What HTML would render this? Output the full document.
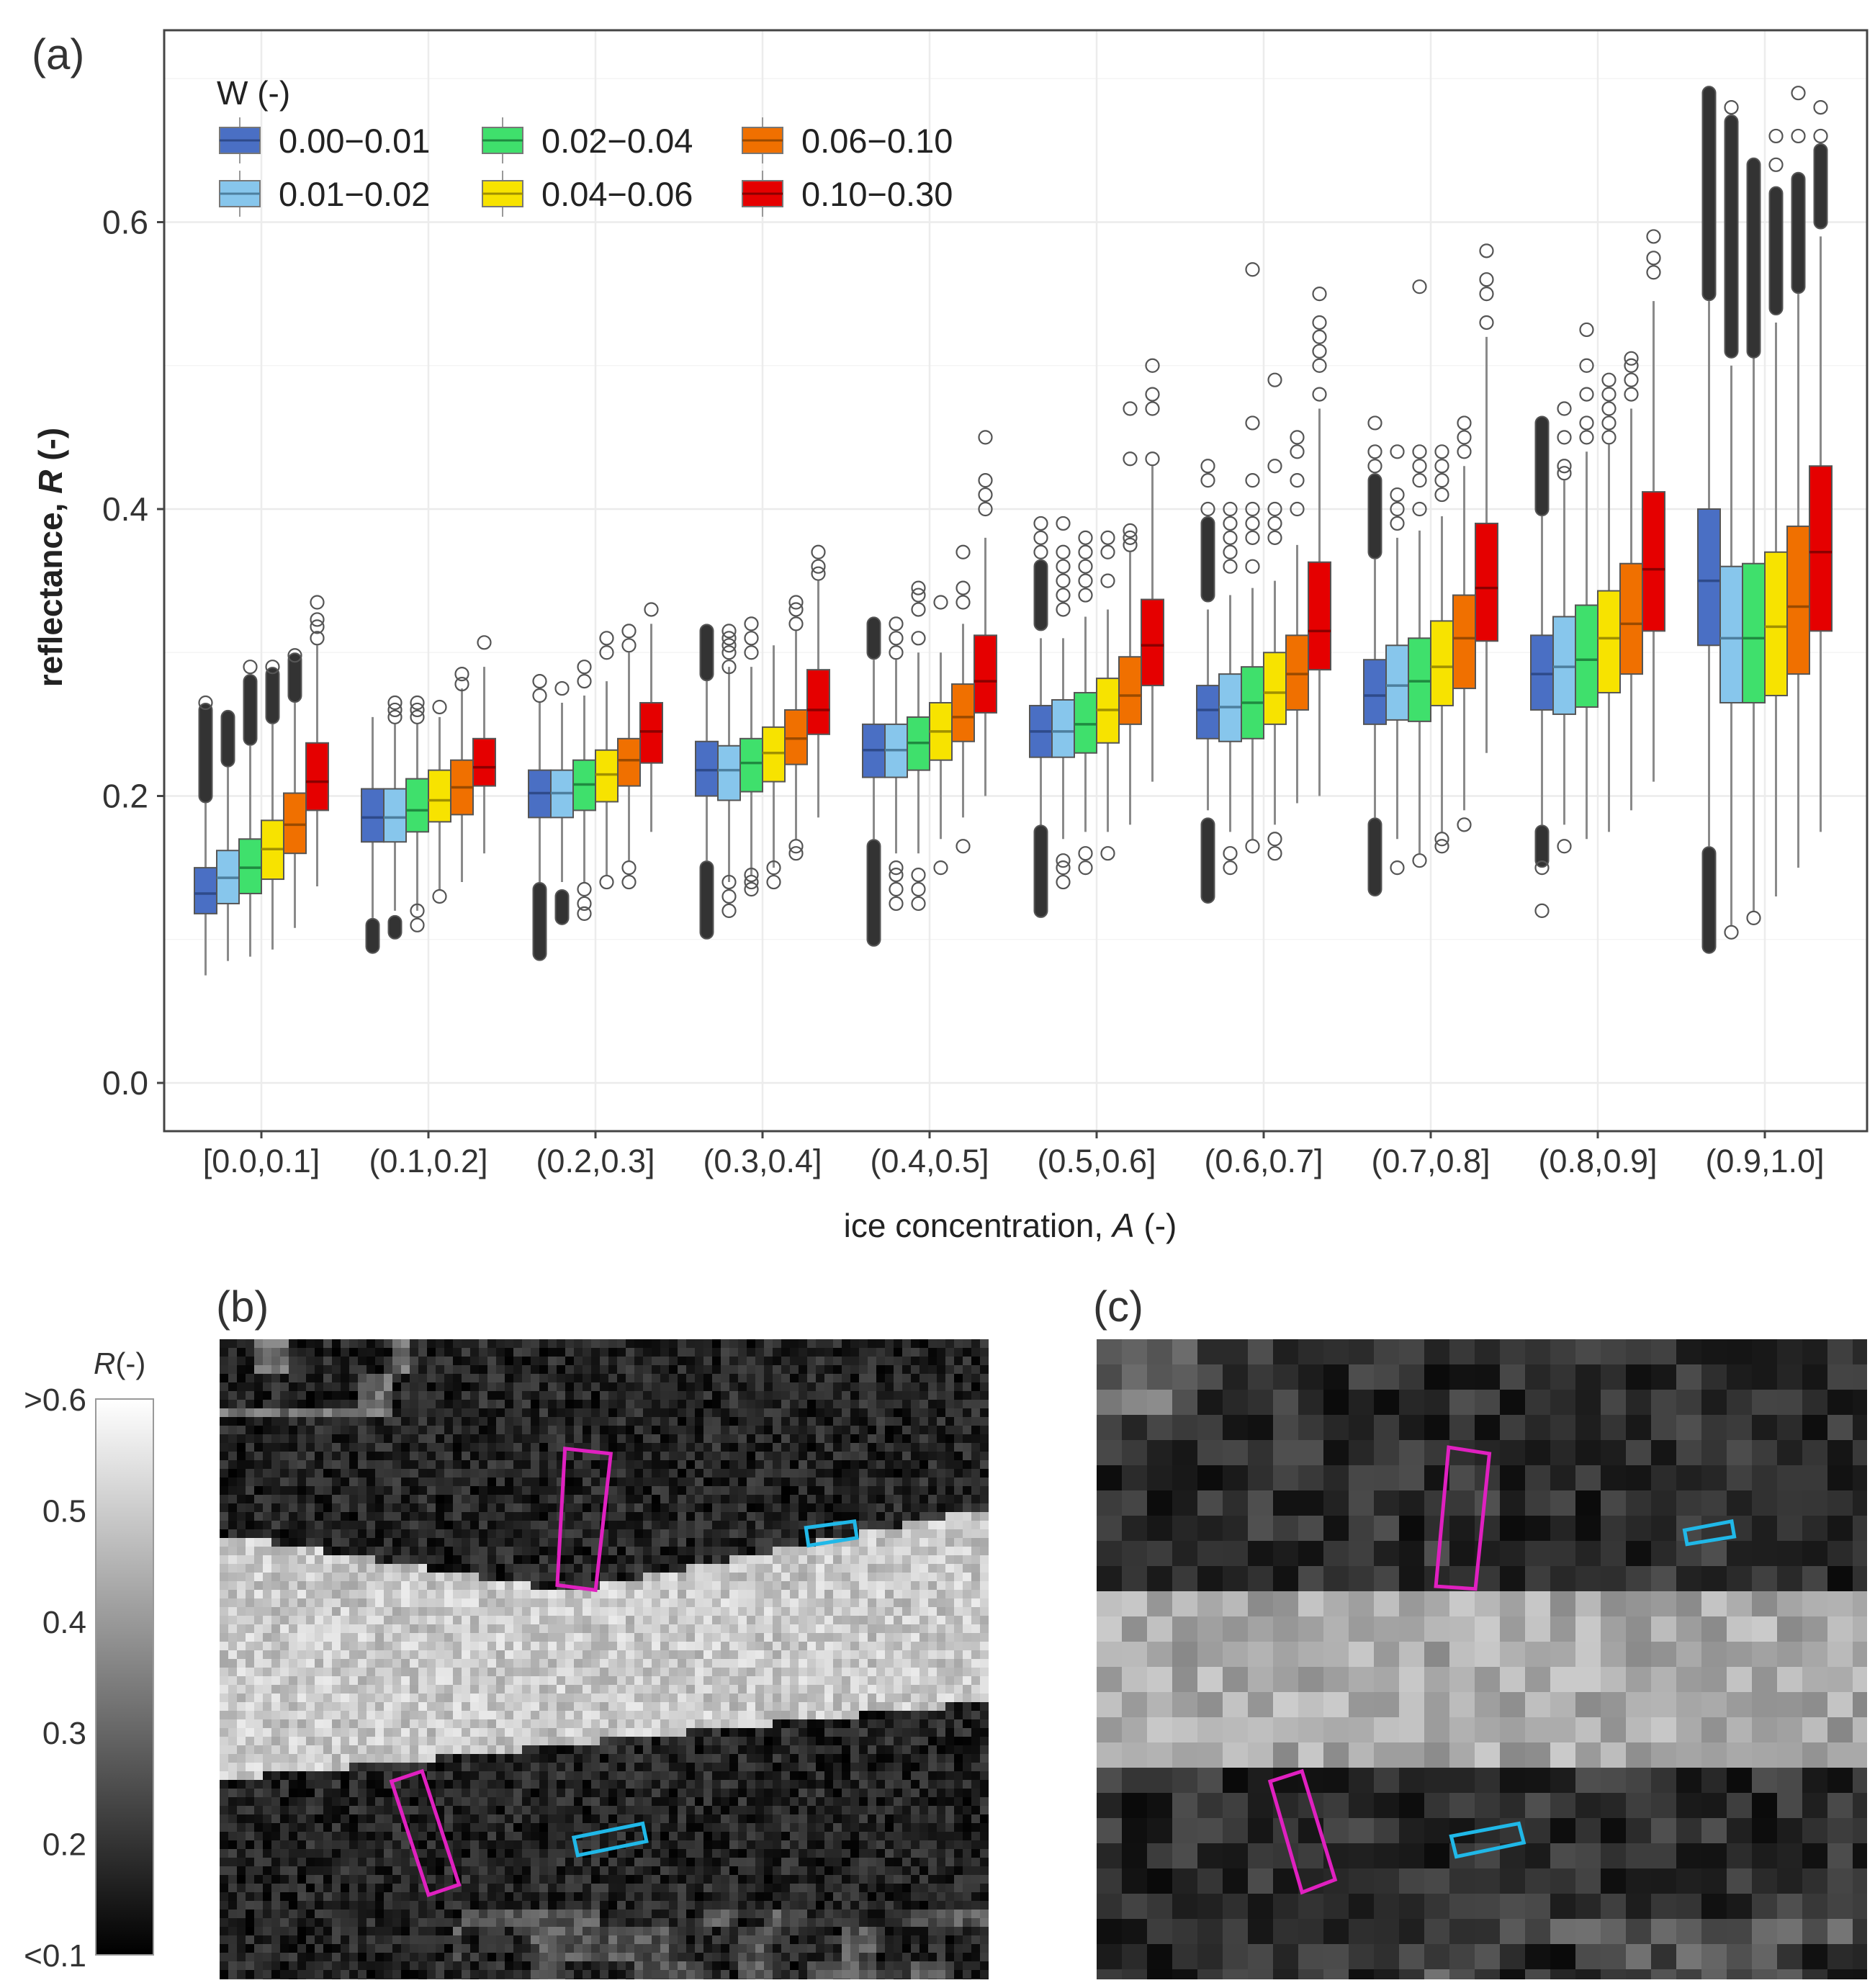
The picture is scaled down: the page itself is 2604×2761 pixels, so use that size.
<!DOCTYPE html>
<html><head><meta charset="utf-8">
<style>
html,body{margin:0;padding:0;background:#fff;}
svg{display:block;}
text{font-family:"Liberation Sans",sans-serif;}
</style></head>
<body>
<svg id="fig" width="2604" height="2761" viewBox="0 0 2604 2761" xmlns="http://www.w3.org/2000/svg">
<rect x="0" y="0" width="2604" height="2761" fill="#fff"/>
<g id="gridG"></g>
<g id="boxG"></g>
<rect x="228" y="42" width="2365" height="1529" fill="none" stroke="#444" stroke-width="3"/>
<text x="44" y="96" font-size="60" fill="#333">(a)</text>
<g id="yTicks"></g>
<g id="xTicks"></g>
<text transform="translate(86,774) rotate(-90)" text-anchor="middle" font-size="46" font-weight="bold" fill="#222">reflectance, <tspan font-style="italic">R</tspan> (-)</text>
<text x="1403" y="1718" text-anchor="middle" font-size="46" fill="#222">ice concentration, <tspan font-style="italic">A</tspan> (-)</text>
<g id="legend">
<text x="301" y="145" font-size="46" fill="#222">W (-)</text>
</g>
<text x="300" y="1835" font-size="60" fill="#333">(b)</text>
<text x="1518" y="1835" font-size="60" fill="#333">(c)</text>
<defs>
<linearGradient id="cbGrad" x1="0" y1="0" x2="0" y2="1">
<stop offset="0" stop-color="#fff"/><stop offset="1" stop-color="#000"/>
</linearGradient>
<clipPath id="clipB"><rect x="305" y="1860" width="1068" height="889"/></clipPath>
<clipPath id="clipC"><rect x="1523" y="1860" width="1070" height="889"/></clipPath>
</defs>
<g id="colorbar">
<rect x="133" y="1943" width="80" height="772" fill="url(#cbGrad)" stroke="#999" stroke-width="2"/>
<text x="130" y="1908" font-size="42" fill="#333"><tspan font-style="italic">R</tspan>(-)</text>
</g>
<g id="imgB" clip-path="url(#clipB)"></g>
<g id="imgC" clip-path="url(#clipC)"></g>
<g id="marks"></g>
</svg>
<script>
// ---- chart data ----
const categories = ["[0.0,0.1]","(0.1,0.2]","(0.2,0.3]","(0.3,0.4]","(0.4,0.5]","(0.5,0.6]","(0.6,0.7]","(0.7,0.8]","(0.8,0.9]","(0.9,1.0]"];
const seriesNames = ["0.00\u22120.01","0.01\u22120.02","0.02\u22120.04","0.04\u22120.06","0.06\u22120.10","0.10\u22120.30"];
const yTickValues = [0.0,0.2,0.4,0.6];
const yTickLabels = ["0.0","0.2","0.4","0.6"];
const cbLabels = [">0.6","0.5","0.4","0.3","0.2","<0.1"];

const q1 = [
 [.118,.168,.185,.2,.213,.227,.24,.25,.26,.305],
 [.125,.168,.185,.197,.213,.227,.238,.253,.257,.265],
 [.132,.175,.19,.203,.218,.23,.24,.252,.262,.265],
 [.142,.182,.196,.21,.225,.237,.25,.263,.272,.27],
 [.16,.187,.207,.222,.238,.25,.26,.275,.285,.285],
 [.19,.207,.223,.243,.258,.277,.288,.308,.315,.315]];
const med = [
 [.132,.185,.202,.218,.232,.245,.26,.27,.285,.35],
 [.143,.185,.202,.218,.232,.245,.262,.277,.29,.31],
 [.15,.19,.208,.223,.237,.25,.265,.28,.295,.31],
 [.163,.197,.215,.23,.245,.26,.272,.29,.31,.318],
 [.18,.206,.225,.24,.255,.27,.285,.31,.32,.332],
 [.21,.22,.245,.26,.28,.305,.315,.345,.358,.37]];
const q3 = [
 [.15,.205,.218,.238,.25,.263,.277,.295,.312,.4],
 [.162,.205,.218,.235,.25,.267,.285,.305,.325,.36],
 [.17,.212,.225,.24,.255,.272,.29,.31,.333,.362],
 [.183,.218,.232,.248,.265,.282,.3,.322,.343,.37],
 [.202,.225,.24,.26,.278,.297,.312,.34,.362,.388],
 [.237,.24,.265,.288,.312,.337,.363,.39,.412,.43]];
const whiskLo = [
 [.075,.115,.14,.155,.17,.175,.19,.185,.18,.165],
 [.085,.12,.14,.14,.16,.17,.175,.17,.18,.11],
 [.088,.12,.14,.145,.16,.175,.17,.16,.17,.12],
 [.093,.135,.145,.15,.17,.175,.18,.175,.175,.13],
 [.108,.14,.155,.17,.185,.18,.195,.19,.19,.15],
 [.137,.16,.175,.185,.2,.21,.2,.23,.21,.175]];
const whiskHi = [
 [.195,.255,.265,.285,.295,.31,.33,.365,.395,.545],
 [.22,.25,.265,.29,.295,.31,.34,.38,.42,.5],
 [.235,.25,.27,.29,.3,.325,.345,.385,.44,.51],
 [.25,.255,.28,.305,.3,.33,.35,.395,.445,.53],
 [.265,.275,.3,.315,.32,.37,.375,.43,.47,.55],
 [.305,.29,.32,.35,.38,.43,.47,.52,.545,.59]];
// dense outlier runs [from,to], indexed [group][series]
const outDense = [
 [[[.2,.26]],[[.225,.255]],[[.24,.28]],[[.255,.285]],[[.27,.295]],[]],
 [[[.095,.11]],[[.105,.112]],[],[],[],[]],
 [[[.09,.135]],[[.115,.13]],[],[],[],[]],
 [[[.105,.15],[.285,.315]],[],[],[],[],[]],
 [[[.1,.165],[.3,.32]],[],[],[],[],[]],
 [[[.12,.175],[.32,.36]],[],[],[],[],[]],
 [[[.13,.18],[.34,.39]],[],[],[],[],[]],
 [[[.135,.18],[.37,.42]],[],[],[],[],[]],
 [[[.155,.175],[.4,.46]],[],[],[],[],[]],
 [[[.095,.16],[.55,.69]],[[.51,.67]],[[.51,.64]],[[.54,.62]],[[.555,.63]],[[.6,.65]]]];
// sparse outliers, indexed [group][series]
const outSparse = [
 [[.265],[],[.29],[.29],[.298],[.31,.318,.323,.335]],
 [[],[.255,.26,.265],[.255,.26,.265,.11,.12],[.262,.13],[.278,.285],[.307]],
 [[.27,.28],[.275],[.28,.29,.118,.125,.135],[.3,.31,.14],[.305,.315,.14,.15],[.33]],
 [[],[.29,.3,.305,.31,.315,.12,.13,.14],[.3,.31,.32,.135,.14,.145],[.14,.15],[.32,.33,.335,.16,.165],[.355,.36,.37]],
 [[],[.3,.31,.32,.125,.135,.145,.15],[.31,.33,.34,.345,.125,.135,.145],[.335,.15],[.335,.345,.37,.165],[.4,.41,.42,.45]],
 [[.37,.38,.39],[.33,.34,.35,.36,.37,.39,.14,.15,.155],[.34,.35,.36,.37,.38,.15,.16],[.35,.37,.38,.16],[.375,.38,.385,.435,.47],[.435,.47,.48,.5]],
 [[.4,.42,.43],[.36,.37,.38,.39,.4,.15,.16],[.36,.38,.39,.4,.42,.46,.567,.165],[.38,.39,.4,.43,.49,.16,.17],[.4,.42,.44,.45],[.48,.5,.51,.52,.53,.55]],
 [[.43,.44,.46],[.39,.4,.41,.44,.15],[.4,.42,.43,.44,.555,.155],[.41,.42,.43,.44,.165,.17],[.44,.45,.46,.18],[.53,.55,.56,.58]],
 [[.12,.15],[.425,.43,.45,.47,.165],[.45,.46,.48,.5,.525],[.45,.46,.47,.48,.49],[.48,.49,.5,.505],[.565,.575,.59]],
 [[],[.68,.105],[.115],[.64,.66],[.66,.69],[.66,.68]]];

const colors = ["#4a6fc4","#87c6ec","#3fe06c","#f7e300","#f07000","#e50000"];
const medColors = ["#2e4a8a","#4d7f9e","#1f8a40","#a09000","#9a4a00","#8a0000"];

// ---- scales ----
const PX0=228, PX1=2593, PY0=42, PY1=1571;
function yScale(v){ return 1504 - v*1992.5; }
function xCenter(i){ return 363 + i*232; }
const boxW = 31;
function xBox(i,j){ return xCenter(i) + (j-2.5)*boxW; }

const NS="http://www.w3.org/2000/svg";
function mk(tag, attrs, parent){
  const e=document.createElementNS(NS,tag);
  for(const k in attrs) e.setAttribute(k,attrs[k]);
  parent.appendChild(e); return e;
}
const gridG=document.getElementById('gridG');
for(let v=0; v<=0.7001; v+=0.1){
  const major = Math.abs(Math.round(v*10)%2)===0;
  const l=mk('line',{x1:PX0,x2:PX1,y1:yScale(v),y2:yScale(v),stroke:major?'#ebebeb':'#f4f4f4','stroke-width':major?2.5:1.5},gridG);
  
  
}
categories.forEach((c,i)=>{
  const l=mk('line',{x1:xCenter(i),x2:xCenter(i),y1:PY0,y2:PY1,stroke:'#ececec','stroke-width':2.5},gridG);
  
  
});
const yT=document.getElementById('yTicks');
yTickValues.forEach((v,k)=>{
  const t=mk('line',{x1:PX0-10,x2:PX0,y1:yScale(v),y2:yScale(v),stroke:'#444','stroke-width':3},yT);
  
  
  const tx=mk('text',{x:PX0-22,y:yScale(v)+16,'text-anchor':'end','font-size':46,fill:'#333'},yT);
  tx.textContent=yTickLabels[k];
  
  
});
const xT=document.getElementById('xTicks');
categories.forEach((c,i)=>{
  const t=mk('line',{x1:xCenter(i),x2:xCenter(i),y1:PY1,y2:PY1+10,stroke:'#444','stroke-width':3},xT);
  
  
  const tx=mk('text',{x:xCenter(i),y:1628,'text-anchor':'middle','font-size':45,fill:'#333'},xT);
  tx.textContent=c;
  
  
});
const boxG=document.getElementById('boxG');
categories.forEach((c,i)=>{
  for(let j=0;j<6;j++){
    const g=mk('g',{},boxG);
    
    
    const xc=xBox(i,j);
    const wl=mk('line',{x1:xc,x2:xc,y1:yScale(whiskLo[j][i]),y2:yScale(whiskHi[j][i]),stroke:'#8a8a8a','stroke-width':3},g);
    
    
    outDense[i][j].forEach(r=>{
      const y1=yScale(r[1]), y2=yScale(r[0]);
      const d=mk('rect',{x:xc-9,y:y1-9,width:18,height:(y2-y1)+18,rx:9,fill:'#333',stroke:'#555','stroke-width':2},g);
      
      
    });
    outSparse[i][j].forEach(v=>{
      const o=mk('circle',{cx:xc,cy:yScale(v),r:9,fill:'none',stroke:'#555','stroke-width':2.2},g);
      
      
    });
    const b=mk('rect',{x:xc-boxW/2,y:yScale(q3[j][i]),width:boxW,height:yScale(q1[j][i])-yScale(q3[j][i]),fill:colors[j],stroke:'#555','stroke-width':2},g);
    
    
    const m=mk('line',{x1:xc-boxW/2,x2:xc+boxW/2,y1:yScale(med[j][i]),y2:yScale(med[j][i]),stroke:medColors[j],'stroke-width':3.5},g);
    
    
  }
});
const leg=document.getElementById('legend');
const legCols=[305,670,1031], legRows=[195,269];
seriesNames.forEach((n,j)=>{
  const col=Math.floor(j/2), row=j%2;
  const g=mk('g',{},leg);
  
  
  const x=legCols[col], y=legRows[row];
  mk('line',{x1:x+28,x2:x+28,y1:y-32,y2:y+32,stroke:'#999','stroke-width':2},g);
  const s=mk('rect',{x:x,y:y-18,width:56,height:36,fill:colors[j],stroke:'#777','stroke-width':2},g);
  
  
  mk('line',{x1:x,x2:x+56,y1:y,y2:y,stroke:medColors[j],'stroke-width':3},g);
  const t=mk('text',{x:x+82,y:y+17,'font-size':47,fill:'#222'},g);
  t.textContent=n;
  
  
});
const cb=document.getElementById('colorbar');
cbLabels.forEach((l,k)=>{
  const y=1943 + k*(772/5);
  const t=mk('text',{x:120,y:y+16,'text-anchor':'end','font-size':44,fill:'#333'},cb);
  t.textContent=l;
  
  
});
function hash(a,b){ let h=(a*374761393 + b*668265263)>>>0; h=((h^(h>>>13))*1274126177)>>>0; return ((h^(h>>>16))>>>0)/4294967295; }
function lerp(a,b,t){return a+(b-a)*t;}
function bandB(u){ const top = u<0.45? lerp(0.30,0.39,u/0.45) : lerp(0.39,0.26,(u-0.45)/0.55);
  const bot = u<0.5? lerp(0.68,0.62,u/0.5) : lerp(0.62,0.56,(u-0.5)/0.5); return [top,bot]; }
function drawImg(gid,x0,y0,w,h,cell,bright,dark,bandFn,noiseAmp,seed,patchAmt){
  const g=document.getElementById(gid);
  mk('rect',{x:x0,y:y0,width:w,height:h,fill:'#222'},g);
  const nx=Math.ceil(w/cell), ny=Math.ceil(h/cell);
  for(let a=0;a<nx;a++){
    for(let b=0;b<ny;b++){
      const u=(a+0.5)/nx, v=(b+0.5)/ny;
      const [t,bo]=bandFn(u);
      let base=dark;
      const p=hash(Math.floor(a/4)+seed*3,Math.floor(b/4)+5);
      if(v>t && v<bo) base=bright;
      else if(v<0.12 && u<0.25 && p>0.35) base=dark+(bright-dark)*patchAmt;
      else if(v>0.88 && u>0.3 && p>0.5) base=dark+(bright-dark)*0.3;
      const n=(hash(a+seed,b)-0.5)*noiseAmp;
      const c=Math.max(0,Math.min(255,Math.round(base+n)));
      mk('rect',{x:x0+a*cell,y:y0+b*cell,width:cell+0.6,height:cell+0.6,fill:`rgb(${c},${c},${c})`},g);
    }
  }
}
drawImg('imgB',305,1860,1068,889,12,200,35,bandB,70,7,0.45);
drawImg('imgC',1523,1860,1070,889,35,170,45,u=>[0.38,0.64],70,31,0.5);
const marks=document.getElementById('marks');
const S=1.771;
const annos=[
 ['#e020c0',[[443,1136],[479,1140],[467,1247],[437,1243]],'magenta-box-b-upper'],
 ['#20b8e8',[[632,1198],[670,1193],[672,1206],[634,1212]],'cyan-box-b-upper'],
 ['#e020c0',[[307,1397],[331,1389],[360,1478],[336,1486]],'magenta-box-b-lower'],
 ['#20b8e8',[[450,1441],[504,1430],[507,1444],[453,1455]],'cyan-box-b-lower'],
 ['#e020c0',[[1136,1135],[1168,1140],[1157,1246],[1126,1244]],'magenta-box-c-upper'],
 ['#20b8e8',[[1321,1200],[1358,1193],[1360,1205],[1323,1211]],'cyan-box-c-upper'],
 ['#e020c0',[[996,1397],[1021,1389],[1047,1474],[1021,1484]],'magenta-box-c-lower'],
 ['#20b8e8',[[1138,1440],[1191,1430],[1195,1445],[1142,1456]],'cyan-box-c-lower']];
annos.forEach(a=>{
  const p=mk('polygon',{points:a[1].map(q=>(q[0]*S).toFixed(1)+','+(q[1]*S).toFixed(1)).join(' '),fill:'none',stroke:a[0],'stroke-width':5},marks);
  
  
});
</script>
</body></html>
